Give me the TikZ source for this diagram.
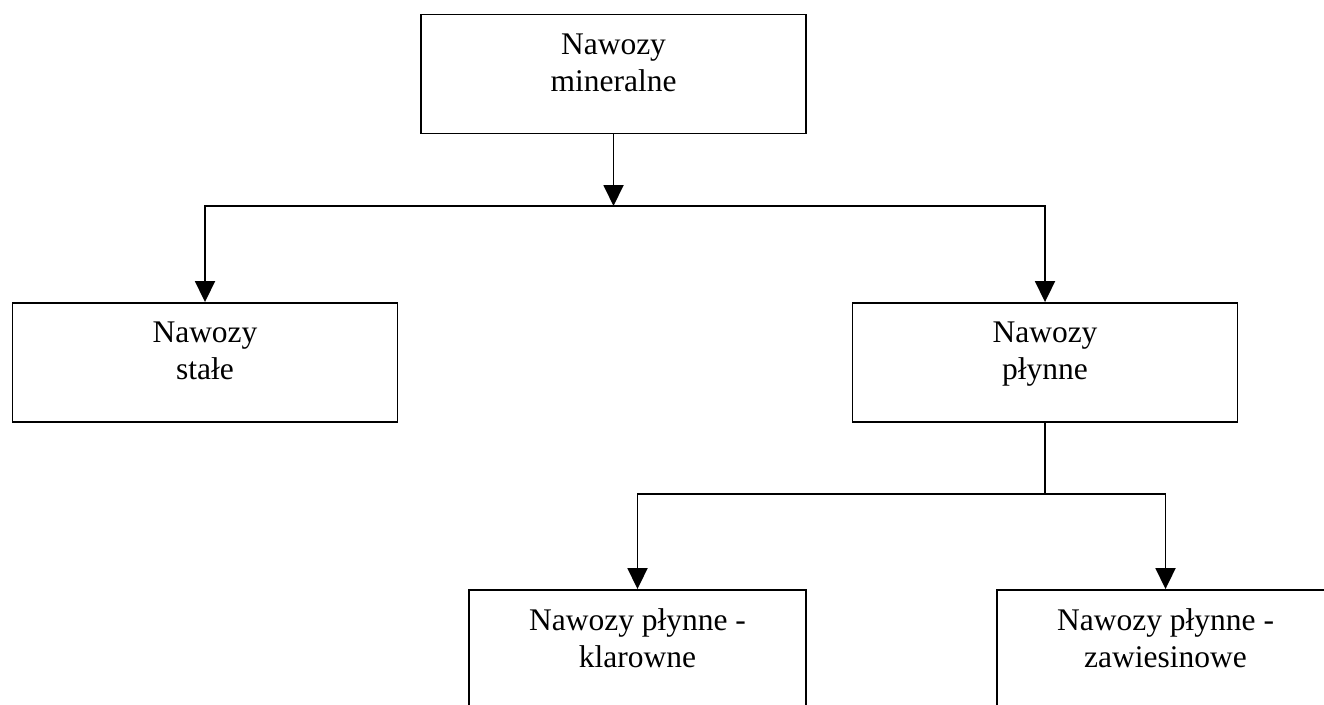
\documentclass[tikz,border=0pt]{standalone}
\usepackage{fontspec}
\setmainfont{Liberation Serif}
\usetikzlibrary{arrows.meta}
\begin{document}
\begin{tikzpicture}[x=1pt,y=-1pt,
  box/.style={draw=black,line width=1.9pt,rectangle,inner sep=0pt,fill=none},
  widebox/.style={box,minimum width=385pt,minimum height=119pt},
  narrowbox/.style={box,minimum width=337pt,minimum height=130pt},
  boxtext/.style={anchor=north,inner sep=0pt,align=center,
    font=\fontsize{31.5}{37}\selectfont},
  link/.style={line width=1.9pt,line join=miter},
  arr/.style={link,-{Triangle[width=20pt,length=21pt]}}]
\clip (0,0) rectangle (1324,704);
\fill[white] (0,0) rectangle (1324,704);

% boxes
\node[widebox] (mineral) at (613.5,74) {};
\node[widebox] (stale)   at (205,362.5) {};
\node[widebox] (plynne)  at (1045,362.5) {};
\node[narrowbox] (klar)  at (637.5,655) {};
\node[narrowbox] (zaw)   at (1165.5,655) {};

% labels, top aligned inside the boxes
\node[boxtext] (mineralT) at ([yshift=-20pt]mineral.north) {Nawozy\\mineralne};
\node[boxtext] (staleT)   at ([yshift=-20pt]stale.north)   {Nawozy\\stałe};
\node[boxtext] (plynneT)  at ([yshift=-20pt]plynne.north)  {Nawozy\\płynne};
\node[boxtext] (klarT)    at ([yshift=-19.5pt]klar.north)  {Nawozy płynne -\\klarowne};
\node[boxtext] (zawT)     at ([yshift=-19.5pt]zaw.north)   {Nawozy płynne -\\zawiesinowe};

% first split
\coordinate (split1) at (mineral.south |- 0,206);
\draw[arr] (mineral.south) -- (split1);
\draw[arr] (split1) -| (stale.north);
\draw[arr] (split1) -| (plynne.north);
\draw[link] (stale.north |- split1) -- (plynne.north |- split1);

% second split
\coordinate (split2) at (plynne.south |- 0,494);
\draw[link] (plynne.south) -- (split2);
\draw[arr] (split2) -| (klar.north);
\draw[arr] (split2) -| (zaw.north);
\end{tikzpicture}
\end{document}
